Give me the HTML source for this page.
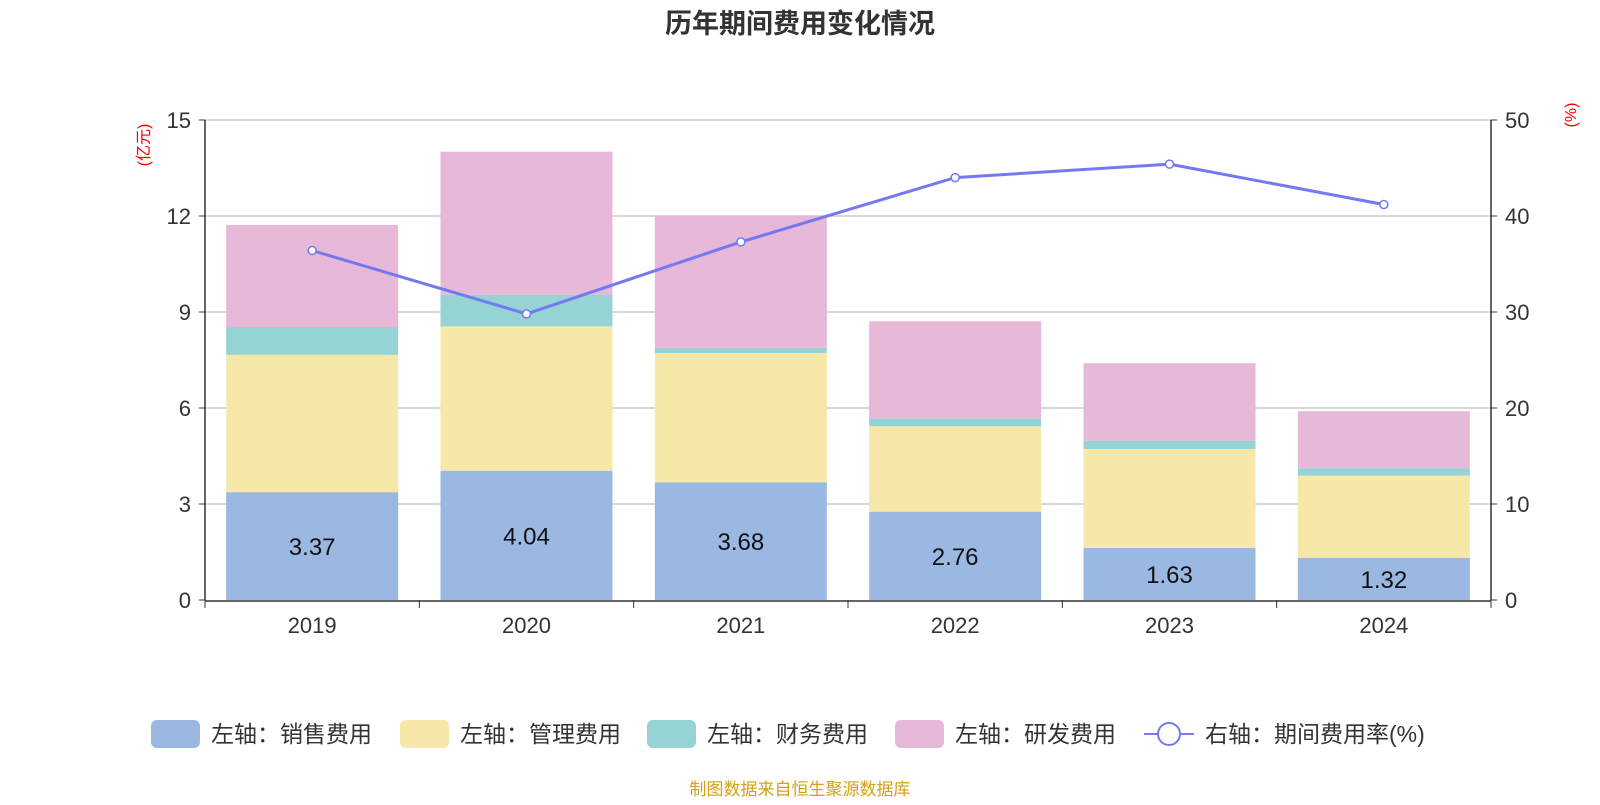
<!DOCTYPE html>
<html><head><meta charset="utf-8">
<style>
body{margin:0;background:#fff;width:1600px;height:800px;overflow:hidden;font-family:"Liberation Sans","Noto Sans CJK SC",sans-serif;}
</style></head>
<body>
<svg id="chart" width="1600" height="800" xmlns="http://www.w3.org/2000/svg" font-family="Liberation Sans, Noto Sans CJK SC, sans-serif">
<text x="800" y="33" text-anchor="middle" font-size="27" font-weight="bold" fill="#333">历年期间费用变化情况</text>
<text transform="translate(149,145) rotate(-90)" text-anchor="middle" font-size="16" fill="#e00">(亿元)</text>
<text transform="translate(1576,115) rotate(-90)" text-anchor="middle" font-size="16" fill="#e00">(%)</text>
<g id="grid"></g><g id="bars"></g><g id="axes"></g><g id="line"></g>
<g id="legend"></g>
<text x="800" y="795" text-anchor="middle" font-size="17" fill="#d4a017">制图数据来自恒生聚源数据库</text>
</svg>
<script>
const categories=["2019","2020","2021","2022","2023","2024"];
const sales=[3.37,4.04,3.68,2.76,1.63,1.32];
const mgmt=[4.29,4.51,4.04,2.67,3.09,2.57];
const finance=[0.87,0.99,0.16,0.25,0.26,0.23];
const rd=[3.19,4.47,4.12,3.03,2.42,1.78];
const rate=[36.4,29.8,37.3,44.0,45.4,41.2];
const leftTicks=[0,3,6,9,12,15];
const rightTicks=[0,10,20,30,40,50];
const NS="http://www.w3.org/2000/svg";
const X0=205,X1=1491,Y0=600,Y1=120;
const bw=(X1-X0)/categories.length;
const half=86;
const yL=v=>Y0-(v/15)*(Y0-Y1);
const yR=v=>Y0-(v/50)*(Y0-Y1);
const xc=i=>X0+bw*(i+0.5);
function mk(tag,attrs,parent,txt){const e=document.createElementNS(NS,tag);for(const k in attrs)e.setAttribute(k,attrs[k]);if(txt!==undefined)e.textContent=txt;document.getElementById(parent).appendChild(e);return e;}
leftTicks.forEach((t,i)=>{
 if(t>0){const g=mk('line',{x1:X0,x2:X1,y1:yL(t),y2:yL(t),stroke:'#ccc','stroke-width':1.5},'grid');
 
 }
 const l=mk('text',{x:X0-14,y:yL(t)+8,'text-anchor':'end','font-size':22,fill:'#333'},'axes',t);
 
 
 mk('line',{x1:X0-6,x2:X0,y1:yL(t),y2:yL(t),stroke:'#333'},'axes');
});
rightTicks.forEach(t=>{
 const l=mk('text',{x:X1+14,y:yR(t)+8,'font-size':22,fill:'#333'},'axes',t);
 
 
 mk('line',{x1:X1,x2:X1+6,y1:yR(t),y2:yR(t),stroke:'#333'},'axes');
});
mk('line',{x1:X0,x2:X0,y1:Y1,y2:Y0,stroke:'#333','stroke-width':1.5},'axes');
mk('line',{x1:X1,x2:X1,y1:Y1,y2:Y0,stroke:'#333','stroke-width':1.5},'axes');
mk('line',{x1:X0,x2:X1,y1:Y0+1,y2:Y0+1,stroke:'#333','stroke-width':1.5},'axes');
for(let i=0;i<=categories.length;i++)mk('line',{x1:X0+bw*i,x2:X0+bw*i,y1:Y0,y2:Y0+8,stroke:'#333'},'axes');
const series=[[sales,'#9bb8e2','sales'],[mgmt,'#f7e7a9','mgmt'],[finance,'#96d3d4','finance'],[rd,'#e7b8d8','rd']];
categories.forEach((c,i)=>{
 const l=mk('text',{x:xc(i),y:Y0+33,'text-anchor':'middle','font-size':22,fill:'#333'},'axes',c);
 
 
 let base=0;
 series.forEach(([arr,col,nm])=>{
  const r=mk('rect',{x:xc(i)-half,width:half*2,y:yL(base+arr[i]),height:yL(base)-yL(base+arr[i]),fill:col},'bars');
  
  
  base+=arr[i];
 });
 const v=mk('text',{x:xc(i),y:(yL(0)+yL(sales[i]))/2+9,'text-anchor':'middle','font-size':24,fill:'#111'},'bars',sales[i].toFixed(2));
 
 
});
const pl=mk('polyline',{points:rate.map((v,i)=>xc(i)+','+yR(v)).join(' '),fill:'none',stroke:'#7579f0','stroke-width':3},'line');


rate.forEach((v,i)=>{const p=mk('circle',{cx:xc(i),cy:yR(v),r:4,fill:'#fff',stroke:'#7579f0','stroke-width':1.5},'line');
 
 });
const leg=[['左轴：销售费用','#9bb8e2',151],['左轴：管理费用','#f7e7a9',400],['左轴：财务费用','#96d3d4',647],['左轴：研发费用','#e7b8d8',895]];
leg.forEach(([t,c,x])=>{
 const r=mk('rect',{x:x,y:720,width:49,height:28,rx:6,fill:c},'legend');
 
 
 const tx=mk('text',{x:x+60,y:742,'font-size':23,fill:'#333'},'legend',t);
 
 
});
mk('line',{x1:1144,x2:1194,y1:734,y2:734,stroke:'#7579f0','stroke-width':2},'legend');
const lc=mk('circle',{cx:1169,cy:734,r:11,fill:'#fff',stroke:'#7579f0','stroke-width':2},'legend');


const lt=mk('text',{x:1205,y:742,'font-size':23,fill:'#333'},'legend','右轴：期间费用率(%)');


</script>
</body></html>
